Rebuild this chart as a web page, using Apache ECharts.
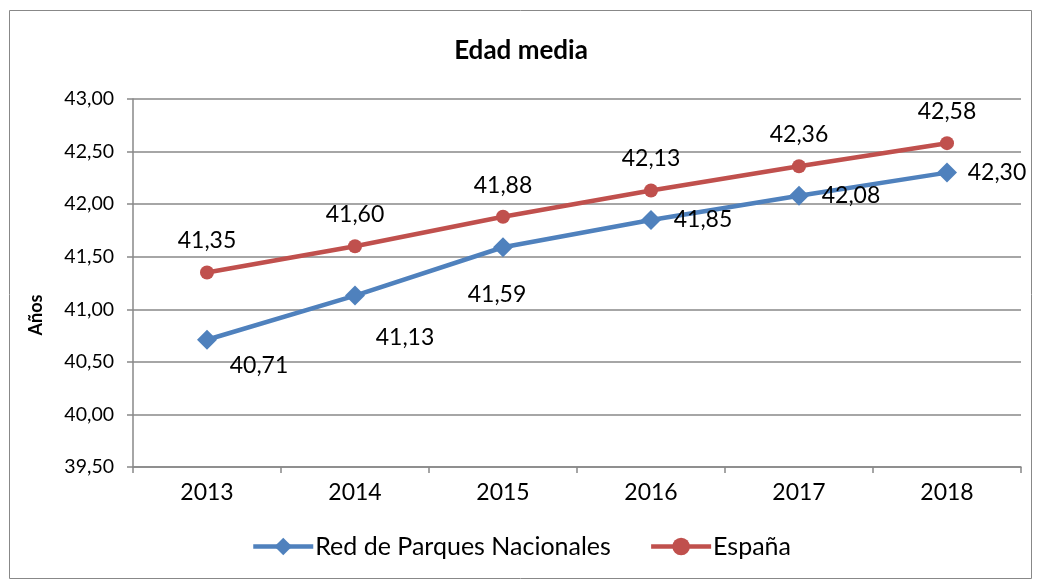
<!DOCTYPE html>
<html>
<head>
<meta charset="utf-8">
<script src="https://cdn.jsdelivr.net/npm/echarts@6/dist/echarts.min.js"></script>
<style>
    html, body { margin: 0; padding: 0; background: #fff; }
    #chart { width: 1042px; height: 584px; }
</style>
</head>
<body>
<div id="chart"></div>
<script>
const years = ['2013', '2014', '2015', '2016', '2017', '2018']
const redParques = [40.71, 41.13, 41.59, 41.85, 42.08, 42.30]
const espana = [41.35, 41.60, 41.88, 42.13, 42.36, 42.58]

// offsets of the blue labels, as placed in the original
const blueOffsets = [[52, 26], [50, 42], [-6, 47], [52, 0], [52, 0], [50, 0]]

const FONT = 'Lato, "Open Sans", sans-serif'

function fmt(v) {
    return v.toFixed(2).replace('.', ',')
}

const myChart = echarts.init(document.getElementById('chart'))

const option = {
    backgroundColor: '#fff',
    textStyle: {fontFamily: FONT},
    title: {
        text: 'Edad media',
        left: 'center',
        top: 33,
        textStyle: {fontSize: 26, fontWeight: 'bold', color: '#000', fontFamily: FONT}
    },
    graphic: [{
        type: 'rect',
        shape: {x: 9.5, y: 10.5, width: 1022, height: 568},
        style: {fill: 'none', stroke: '#888', lineWidth: 1},
        silent: true
    }],
    legend: {
        bottom: 20,
        left: 'center',
        itemWidth: 60,
        itemHeight: 22,
        itemGap: 38,
        lineStyle: {width: 4.5},
        textStyle: {fontSize: 25, color: '#000', fontFamily: FONT, padding: [0, 0, 0, -3]},
        data: ['Red de Parques Nacionales', 'España']
    },
    grid: {left: 133, right: 21, top: 99, bottom: 117},
    xAxis: {
        type: 'category',
        data: years,
        boundaryGap: true,
        axisLine: {lineStyle: {color: '#888', width: 1.5}},
        axisTick: {show: true, length: 6, lineStyle: {color: '#888', width: 1.5}},
        axisLabel: {fontSize: 23, color: '#000', margin: 14, fontFamily: FONT}
    },
    yAxis: {
        type: 'value',
        min: 39.5,
        max: 43,
        interval: 0.5,
        name: 'Años',
        nameLocation: 'middle',
        nameGap: 88,
        nameTextStyle: {fontSize: 18, fontWeight: 'bold', color: '#000', padding: [0, 0, 0, -64], fontFamily: FONT},
        axisLine: {show: true, lineStyle: {color: '#888', width: 1.5}},
        axisTick: {show: true, length: 6, lineStyle: {color: '#888', width: 1.5}},
        splitLine: {lineStyle: {color: '#888', width: 1.5}},
        axisLabel: {fontSize: 19.5, color: '#000', margin: 19, formatter: fmt, fontFamily: FONT}
    },
    series: [
        {
            name: 'Red de Parques Nacionales',
            type: 'line',
            data: redParques.map((v, i) => ({
                value: v,
                label: {offset: blueOffsets[i]}
            })),
            symbol: 'diamond',
            symbolSize: 20,
            color: '#4F81BD',
            lineStyle: {width: 4.5, color: '#4F81BD'},
            itemStyle: {color: '#4F81BD'},
            label: {
                show: true,
                position: 'inside',
                fontSize: 23,
                color: '#000',
                fontFamily: FONT,
                formatter: p => fmt(p.value)
            },
            z: 3
        },
        {
            name: 'España',
            type: 'line',
            data: espana,
            symbol: 'circle',
            symbolSize: 14,
            color: '#C0504D',
            lineStyle: {width: 4.5, color: '#C0504D'},
            itemStyle: {color: '#C0504D'},
            label: {
                show: true,
                position: 'top',
                distance: 13,
                fontSize: 23,
                color: '#000',
                fontFamily: FONT,
                formatter: p => fmt(p.value)
            },
            z: 2
        }
    ]
}

myChart.setOption(option)
window.addEventListener('resize', function () {
    myChart.resize()
})
</script>
</body>
</html>
